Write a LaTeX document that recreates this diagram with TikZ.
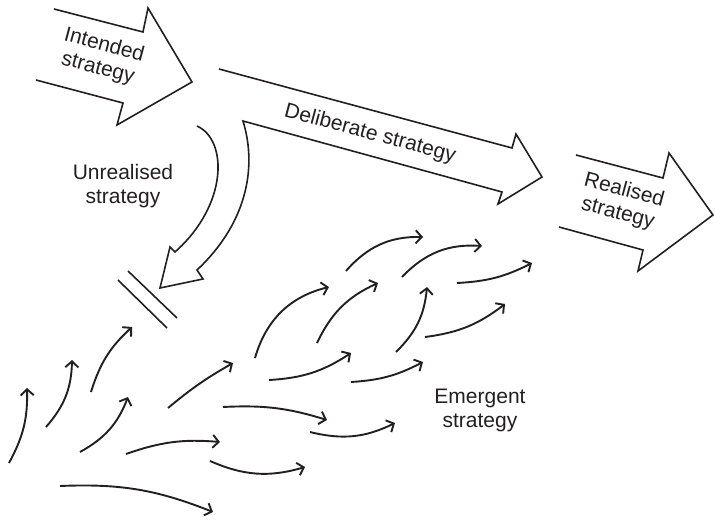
\documentclass[tikz,border=0pt]{standalone}
\usepackage{fontspec}
\setmainfont{Liberation Sans}
\usetikzlibrary{arrows.meta}
\definecolor{inkline}{HTML}{231F20}

\begin{document}
\begin{tikzpicture}[
    x=1pt, y=-1pt,
    every node/.style={font=\fontsize{21}{24}\selectfont, text=inkline, align=center, inner sep=0pt},
    blockarrow/.style={draw=inkline, line width=1.6pt, line join=miter},
    sprout/.style={draw=inkline, line width=1.9pt, -{Straight Barb[length=6pt, width=13pt]}},
    % y runs downwards, so the bends are mirrored
    turnleft/.style={sprout, bend right=#1},
    turnright/.style={sprout, bend left=#1},
]
\useasboundingbox (0,0) rectangle (715,521);

% Intended strategy arrow
\draw[blockarrow] (54,9) -- (143,32) -- (148,8) -- (192,82) -- (117,125)
    -- (123,103) -- (36,80);
\node[rotate=-15] (intended) at (101,57) {Intended\\strategy};

% Deliberate strategy arrow, splitting off the unrealised branch
\draw[blockarrow] (219,69) -- (512,148) -- (516,134) -- (542,177) -- (498,204)
    -- (502,192) -- (243,121)
    .. controls (258,170) and (245,225) .. (197,270)
    -- (203,279) -- (160,288) -- (170,247) -- (175,252)
    .. controls (228,205) and (228,140) .. (197,126);
\node[rotate=-15] (deliberate) at (370,134) {Deliberate strategy};
\node (unrealised) at (123,186) {Unrealised\\strategy};

% Barrier
\draw[inkline, line width=1.6pt] (118,280) -- (167,328);
\draw[inkline, line width=1.6pt] (128,271) -- (177,318);

% Realised strategy arrow
\draw[blockarrow] (576,155) -- (663,178) -- (669,153) -- (713,215) -- (638,271)
    -- (643,250) -- (559,227);
\node[rotate=-15] (realised) at (621,202) {Realised\\strategy};

% Emergent strategy sprouts
\draw[turnleft=15]  (9,463)   to (27,388);
\draw[turnleft=20]  (46,427)  to (72,360);
\draw[turnright=15] (91,392)  to (132,327);
\draw[turnleft=20]  (80,452)  to (128,397);
\draw[turnright=12] (126,454) to (220,442);
\draw[turnright=12] (60,486)  to (213,512);
\draw[turnright=5]  (168,408) to (233,363);
\draw[turnright=10] (223,407) to (327,420);
\draw[turnleft=20]  (210,461) to (305,467);
\draw[turnright=30] (255,358) to (329,287);
\draw[turnleft=15]  (269,380) to (351,353);
\draw[turnright=20] (317,343) to (378,283);
\draw[turnright=25] (346,271) to (423,237);
\draw[turnright=25] (402,277) to (482,246);
\draw[turnleft=12]  (457,283) to (532,263);
\draw[turnleft=20]  (396,352) to (427,287);
\draw[turnleft=15]  (425,337) to (505,304);
\draw[turnleft=12]  (351,382) to (423,362);
\draw[turnleft=20]  (310,432) to (395,423);
\node (emergent) at (480,410) {Emergent\\strategy};

\end{tikzpicture}
\end{document}
